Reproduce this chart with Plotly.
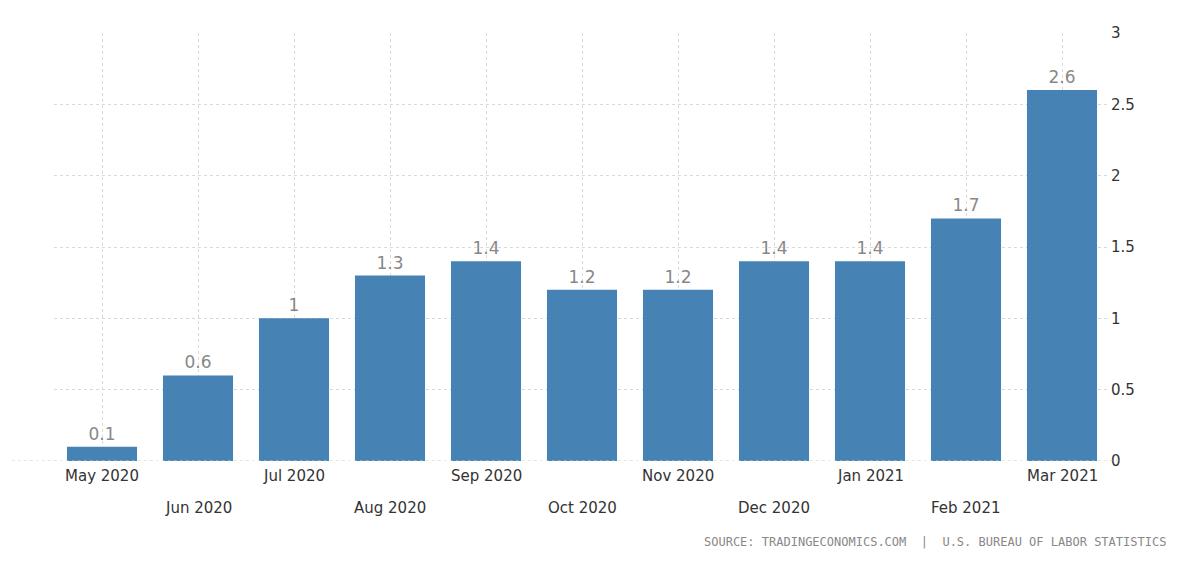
import plotly.graph_objects as go

months = ["May 2020","Jun 2020","Jul 2020","Aug 2020","Sep 2020","Oct 2020",
          "Nov 2020","Dec 2020","Jan 2021","Feb 2021","Mar 2021"]
values = [0.1,0.6,1.0,1.3,1.4,1.2,1.2,1.4,1.4,1.7,2.6]
labels = ["0.1","0.6","1","1.3","1.4","1.2","1.2","1.4","1.4","1.7","2.6"]

fig = go.Figure(go.Bar(x=list(range(len(months))), y=values, text=labels,
    textposition="outside", cliponaxis=False,
    textfont=dict(size=17, color="#888888", family="DejaVu Sans"),
    marker=dict(color="#4682b4", line_width=0), width=0.73))

for i, m in enumerate(months):
    fig.add_annotation(x=i, y=0, xref="x", yref="y", text=m, showarrow=False,
        yanchor="top", yshift=-4 if i % 2 == 0 else -36,
        font=dict(size=15, color="#333333", family="DejaVu Sans"))

fig.add_annotation(x=1160, xref="paper", y=-0.19, yref="paper", xanchor="right", yanchor="middle",
    text="SOURCE: TRADINGECONOMICS.COM  |  U.S. BUREAU OF LABOR STATISTICS", showarrow=False,
    font=dict(size=12, color="#888888", family="DejaVu Sans Mono"))
fig.layout.annotations[-1].x = (1160 - 46) / (1200 - 46 - 98)

fig.update_layout(width=1200, height=577, plot_bgcolor="white", paper_bgcolor="white",
    margin=dict(l=46, r=98, t=25, b=124, autoexpand=False), showlegend=False,
    xaxis=dict(range=[-0.5, 10.5], showticklabels=False, showgrid=True,
               gridcolor="#d9d9d9", griddash="dot", tickvals=list(range(11)),
               zeroline=False, showline=False),
    yaxis=dict(range=[0, 3], side="right", dtick=0.5, showgrid=True, gridcolor="#d9d9d9",
               griddash="dot", zeroline=False, ticks="", automargin=False,
               tickfont=dict(size=15, color="#333333", family="DejaVu Sans"),
               tickvals=[0,0.5,1,1.5,2,2.5,3], ticktext=["0","0.5","1","1.5","2","2.5","3"]))
fig.add_shape(type="line", xref="paper", yref="y", x0=-0.04, x1=1.01, y0=0, y1=0,
              line=dict(color="#cccccc", width=1, dash="dot"))
fig.write_html("out.html")
